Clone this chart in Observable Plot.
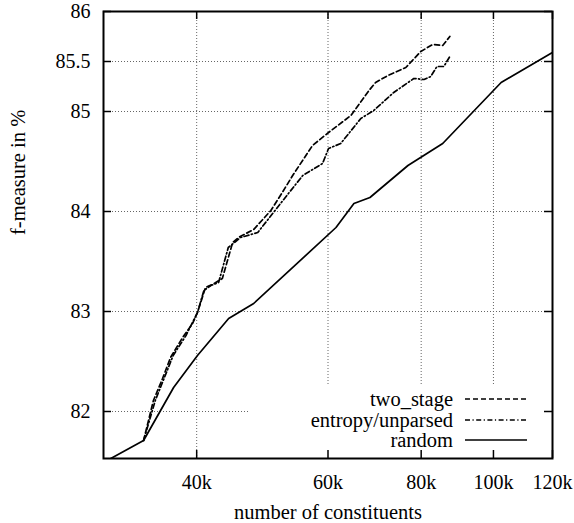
<!DOCTYPE html>
<html>
<head>
<meta charset="utf-8">
<script src="https://cdn.jsdelivr.net/npm/d3@7"></script>
<script src="https://cdn.jsdelivr.net/npm/@observablehq/plot@0.6"></script>
<style>
  html, body { margin: 0; padding: 0; background: white; }
  svg { display: block; }
</style>
</head>
<body>
<div id="chart"></div>
<script>
// ---- data ----
const seriesNames = ["two_stage", "entropy/unparsed", "random"];

const twoStageX = [33950, 35000, 36000, 36900, 38300, 39500, 40100, 41100, 42000, 43300, 44700, 45500, 47700, 50300, 52300, 53800, 57200, 60100, 64400, 68100, 69500, 72200, 76300, 79900, 82900, 85500, 87400];
const twoStageY = [81.71, 82.11, 82.33, 82.54, 82.74, 82.88, 82.99, 83.24, 83.27, 83.33, 83.69, 83.74, 83.82, 84.01, 84.21, 84.36, 84.66, 84.79, 84.96, 85.21, 85.29, 85.36, 85.44, 85.60, 85.67, 85.66, 85.75];

const entropyX = [33950, 35200, 36300, 37200, 38700, 40100, 40900, 41800, 42800, 44100, 45800, 48300, 50700, 53100, 55500, 59000, 60100, 62400, 66400, 69100, 73500, 78200, 80700, 82400, 84000, 85800, 87400];
const entropyY = [81.71, 82.11, 82.36, 82.56, 82.76, 82.99, 83.21, 83.26, 83.29, 83.64, 83.74, 83.79, 83.99, 84.18, 84.36, 84.48, 84.63, 84.68, 84.93, 85.01, 85.19, 85.33, 85.32, 85.35, 85.45, 85.45, 85.55];

const randomX = [30000, 33950, 37250, 40100, 44150, 47700, 61500, 65000, 68300, 76800, 85500, 102400, 120000];
const randomY = [81.49, 81.71, 82.24, 82.56, 82.93, 83.08, 83.84, 84.08, 84.14, 84.46, 84.68, 85.29, 85.59];

const xTicks = [40000, 60000, 80000, 100000, 120000];
const yTicks = [82, 83, 84, 85, 85.5, 86];
const xTickLabels = ["40k", "60k", "80k", "100k", "120k"];
const yTickLabels = ["82", "83", "84", "85", "85.5", "86"];
const xLabel = "number of constituents";
const yLabel = "f-measure in %";

// ---- build ----
const toPts = (xs, ys) => xs.map((x, i) => ({x, y: ys[i]}));
const twoStage = toPts(twoStageX, twoStageY);
const entropy = toPts(entropyX, entropyY);
const random = toPts(randomX, randomY);

const W = 574, H = 523, ML = 103, MT = 11, MR = 22, MB = 65;
const IW = W - ML - MR, IH = H - MT - MB;
const TICK = 8;

const dashStyles = {"two_stage": "5,3", "entropy/unparsed": "5,2.5,1.2,2.5", "random": null};

const gridStyle = {stroke: "#666", strokeWidth: 1, strokeDasharray: "1,2"};

const plot = Plot.plot({
  width: W, height: H,
  marginLeft: ML, marginTop: MT, marginRight: MR, marginBottom: MB,
  style: {fontFamily: "'Liberation Serif', 'Times New Roman', serif", fontSize: "20px", background: "white", color: "black"},
  x: {type: "log", domain: [30000, 120000]},
  y: {type: "linear", domain: [81.53, 86]},
  marks: [
    Plot.ruleX(xTicks, {x: d => d, ...gridStyle}),
    Plot.ruleY(yTicks, {y: d => d, ...gridStyle}),
    // key box erases the grid behind it
    Plot.frame({fill: "white", stroke: "none", insetLeft: 145, insetTop: 374}),
    // inward mirror ticks
    Plot.tickY(yTicks, {y: d => d, insetRight: IW - TICK, stroke: "black", strokeWidth: 1.5}),
    Plot.tickY(yTicks, {y: d => d, insetLeft: IW - TICK, stroke: "black", strokeWidth: 1.5}),
    Plot.tickX(xTicks, {x: d => d, insetTop: IH - TICK, stroke: "black", strokeWidth: 1.5}),
    Plot.tickX(xTicks, {x: d => d, insetBottom: IH - TICK, stroke: "black", strokeWidth: 1.5}),
    Plot.line(random, {x: "x", y: "y", stroke: "black", strokeWidth: 1.7, clip: true}),
    Plot.line(entropy, {x: "x", y: "y", stroke: "black", strokeWidth: 1.7, strokeDasharray: dashStyles["entropy/unparsed"], clip: true}),
    Plot.line(twoStage, {x: "x", y: "y", stroke: "black", strokeWidth: 1.7, strokeDasharray: dashStyles["two_stage"], clip: true}),
    Plot.frame({stroke: "black", strokeWidth: 2}),
    Plot.axisX({ticks: xTicks, tickSize: 0, tickPadding: 16, tickFormat: (d) => xTickLabels[xTicks.indexOf(d)], label: null, fontSize: 20}),
    Plot.axisY({ticks: yTicks, tickSize: 0, tickPadding: 13, tickFormat: (d) => yTickLabels[yTicks.indexOf(d)], label: null, fontSize: 20}),
    Plot.text([xLabel], {text: d => d, frameAnchor: "bottom", dy: 60, fontSize: 20.5}),
    Plot.text([yLabel], {text: d => d, frameAnchor: "left", dx: -85, rotate: -90, fontSize: 20.5})
  ]
});

document.getElementById("chart").appendChild(plot);

// ---- key ----
const svg = d3.select(plot);
const keyRows = [399, 420, 440];
const key = svg.append("g").attr("font-family", "'Liberation Serif', 'Times New Roman', serif").attr("font-size", 20.5);
seriesNames.forEach((name, i) => {
  const yy = keyRows[i];
  key.append("text").attr("x", 453).attr("y", yy).attr("dy", "0.32em").attr("text-anchor", "end").attr("fill", "black").text(name);
  const ln = key.append("line").attr("x1", 465).attr("x2", 527).attr("y1", yy).attr("y2", yy)
    .attr("stroke", "black").attr("stroke-width", 1.7);
  if (dashStyles[name]) ln.attr("stroke-dasharray", dashStyles[name]);
});
</script>
</body>
</html>
